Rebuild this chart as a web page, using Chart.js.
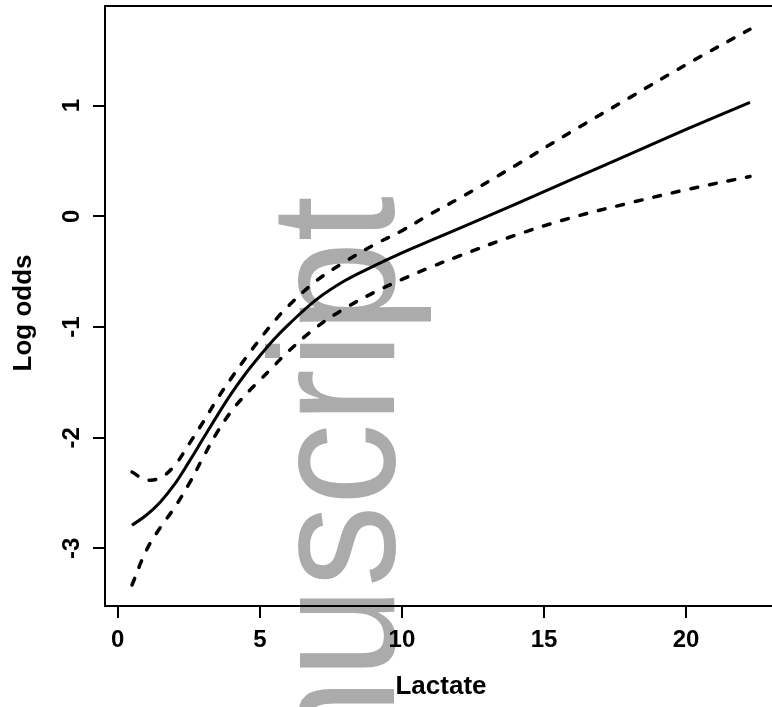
<!DOCTYPE html>
<html><head><meta charset="utf-8">
<script src="https://cdn.jsdelivr.net/npm/chart.js@4"></script>
<style>html,body{margin:0;padding:0;background:#fff;overflow:hidden}</style>
</head><body>
<canvas id="c" width="780" height="707"></canvas>
<script>
const lactate    = [0.5, 1, 1.5, 2, 2.5, 3, 3.5, 4, 4.5, 5, 5.5, 6, 7, 8, 9, 10, 11, 12, 14, 16, 18, 20, 22.25];
const fitLogOdds = [-2.79, -2.70, -2.58, -2.42, -2.22, -2.01, -1.80, -1.60, -1.42, -1.26, -1.11, -0.98, -0.75, -0.58, -0.45, -0.33, -0.22, -0.11, 0.11, 0.335, 0.56, 0.785, 1.03];
const upperCI    = [-2.31, -2.38, -2.36, -2.25, -2.06, -1.86, -1.65, -1.46, -1.28, -1.11, -0.95, -0.81, -0.58, -0.41, -0.26, -0.13, 0.02, 0.16, 0.46, 0.77, 1.07, 1.37, 1.69];
const lowerCI    = [-3.33, -3.02, -2.81, -2.63, -2.42, -2.18, -1.95, -1.76, -1.61, -1.48, -1.35, -1.22, -1.00, -0.83, -0.69, -0.57, -0.46, -0.36, -0.17, -0.01, 0.12, 0.24, 0.36];
const xTicks = [0, 5, 10, 15, 20];
const yTicks = [-3, -2, -1, 0, 1];
const xTitle = 'Lactate';
const yTitle = 'Log odds';
const watermark = 'Manuscript';

const FONT = '"Liberation Sans", Arial, sans-serif';
const pts = ys => lactate.map((x, i) => ({x, y: ys[i]}));

const watermarkPlugin = {
  id: 'wm',
  beforeDraw(chart) {
    const ctx = chart.ctx;
    ctx.save();
    ctx.fillStyle = '#fff';
    ctx.fillRect(0, 0, chart.width, chart.height);
    ctx.translate(394, 196);
    ctx.rotate(-Math.PI / 2);
    ctx.scale(0.92, 1);
    ctx.font = '178px ' + FONT;
    ctx.fillStyle = '#ababab';
    ctx.textAlign = 'right';
    ctx.textBaseline = 'alphabetic';
    ctx.fillText(watermark, 0, 0);
    ctx.restore();
  }
};

const boxPlugin = {
  id: 'box',
  afterDraw(chart) {
    const {ctx, chartArea: a, scales: {y}} = chart;
    ctx.save();
    ctx.strokeStyle = '#000';
    ctx.lineWidth = 2;
    ctx.beginPath();
    ctx.moveTo(a.left - 1, a.top);
    ctx.lineTo(a.right, a.top);
    ctx.lineTo(a.right, a.bottom);
    ctx.stroke();
    ctx.fillStyle = '#000';
    ctx.textAlign = 'center';
    ctx.textBaseline = 'alphabetic';
    ctx.font = 'bold 24px ' + FONT;
    y.ticks.forEach(t => {
      const py = y.getPixelForValue(t.value);
      ctx.save();
      ctx.translate(79, py);
      ctx.rotate(-Math.PI / 2);
      ctx.fillText(String(t.value), 0, 0);
      ctx.restore();
    });
    ctx.font = 'bold 26px ' + FONT;
    ctx.save();
    ctx.translate(31, (a.top + a.bottom) / 2 + 7);
    ctx.rotate(-Math.PI / 2);
    ctx.fillText(yTitle, 0, 0);
    ctx.restore();
    ctx.restore();
  }
};

const common = {showLine: true, pointRadius: 0, borderColor: '#000', fill: false, tension: 0.4};

new Chart(document.getElementById('c'), {
  type: 'scatter',
  data: {
    datasets: [
      Object.assign({label: 'fit', data: pts(fitLogOdds), borderWidth: 3}, common),
      Object.assign({label: 'upper', data: pts(upperCI), borderWidth: 3.5, borderDash: [7, 12], borderCapStyle: 'round'}, common),
      Object.assign({label: 'lower', data: pts(lowerCI), borderWidth: 3.5, borderDash: [7, 12], borderCapStyle: 'round'}, common)
    ]
  },
  options: {
    responsive: false,
    animation: false,
    layout: {padding: {top: 6, right: 3, left: 0, bottom: 0}},
    plugins: {legend: {display: false}, tooltip: {enabled: false}},
    scales: {
      x: {
        type: 'linear', min: -0.45, max: 23.2,
        afterBuildTicks: s => { s.ticks = xTicks.map(v => ({value: v})); },
        afterFit: s => { s.height = 101; },
        grid: {display: true, drawOnChartArea: false, drawTicks: true, tickLength: 12, lineWidth: 2, color: '#000'},
        border: {display: true, width: 2, color: '#000'},
        ticks: {font: {family: FONT, size: 24, weight: 'bold'}, color: '#000', padding: 8, maxRotation: 0, autoSkip: false},
        title: {display: true, text: xTitle, font: {family: FONT, size: 26, weight: 'bold'}, color: '#000', padding: {top: 0, bottom: 5}}
      },
      y: {
        type: 'linear', min: -3.52, max: 1.90,
        afterBuildTicks: s => { s.ticks = yTicks.map(v => ({value: v})); },
        afterFit: s => { s.width = 105; },
        grid: {display: true, drawOnChartArea: false, drawTicks: true, tickLength: 12, lineWidth: 2, color: '#000'},
        border: {display: true, width: 2, color: '#000'},
        ticks: {display: false},
        title: {display: false}
      }
    }
  },
  plugins: [watermarkPlugin, boxPlugin]
});
</script>
</body></html>
